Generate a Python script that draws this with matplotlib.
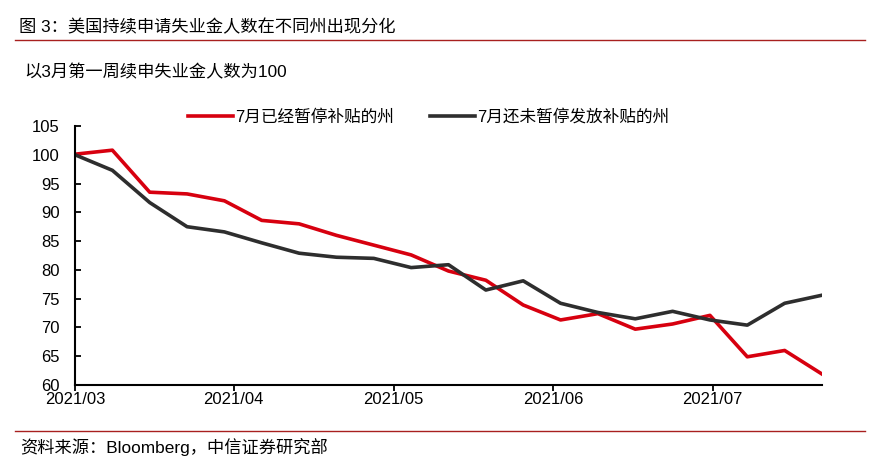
import matplotlib
matplotlib.use("Agg")
import matplotlib.pyplot as plt
from matplotlib.lines import Line2D

plt.rcParams['font.family'] = ['Liberation Sans', 'Noto Sans CJK SC', 'DejaVu Sans']

# weekly observations, first week of March = 100
week = list(range(21))
paused = [100.1, 100.8, 93.5, 93.2, 92.0, 88.6, 88.0, 86.0, 84.3, 82.6, 79.8,
          78.2, 73.9, 71.3, 72.4, 69.7, 70.6, 72.1, 64.9, 66.0, 61.9]
not_paused = [100.0, 97.3, 91.7, 87.5, 86.6, 84.7, 82.9, 82.2, 82.0, 80.4, 80.9,
              76.5, 78.1, 74.2, 72.6, 71.5, 72.8, 71.3, 70.4, 74.2, 75.6]
month_pos = [0, 4.25, 8.53, 12.8, 17.07]
month_labels = ["2021/03", "2021/04", "2021/05", "2021/06", "2021/07"]

fig = plt.figure(figsize=(8.82, 4.75), dpi=100)
ax = fig.add_axes([75/882, 1-385/475, (822-75)/882, (385-126)/475])

ax.plot(week, paused, color='#d7000f', lw=2.6, label='7月已经暂停补贴的州')
ax.plot(week, not_paused, color='#2e2e2e', lw=2.6, label='7月还未暂停发放补贴的州')

ax.set_xlim(0, 20)
ax.set_ylim(60, 105)
ax.set_yticks(range(60, 106, 5))
ax.set_xticks(month_pos)
ax.set_xticklabels(month_labels)
ax.tick_params(labelsize=12, length=4, width=1.3, colors='black')
ax.tick_params(axis='x', direction='out', pad=1)
ax.tick_params(axis='y', direction='in', pad=11)
for s in ['top', 'right']:
    ax.spines[s].set_visible(False)
for s in ['left', 'bottom']:
    ax.spines[s].set_linewidth(1.5)

ax.legend(loc='center', bbox_to_anchor=(0.486, 1-117/475), bbox_transform=fig.transFigure,
          ncol=2, frameon=False, fontsize=12, handlelength=2.7, handletextpad=0.1,
          columnspacing=2.2)

fig.text(19/882, 1-27/475, '图 3：美国持续申请失业金人数在不同州出现分化', fontsize=12.4, va='center')
fig.text(24/882, 1-72/475, '以3月第一周续申失业金人数为100', fontsize=12.4, va='center')
fig.text(20/882, 1-447/475, '资料来源：Bloomberg，中信证券研究部', fontsize=12.4, va='center')

fig.add_artist(Line2D([15/882, 865/882], [1-40/475, 1-40/475], color='#a8201f', lw=1.0))
fig.add_artist(Line2D([15/882, 865/882], [1-431/475, 1-431/475], color='#a8201f', lw=1.0))

fig.savefig('out.png', dpi=100)
